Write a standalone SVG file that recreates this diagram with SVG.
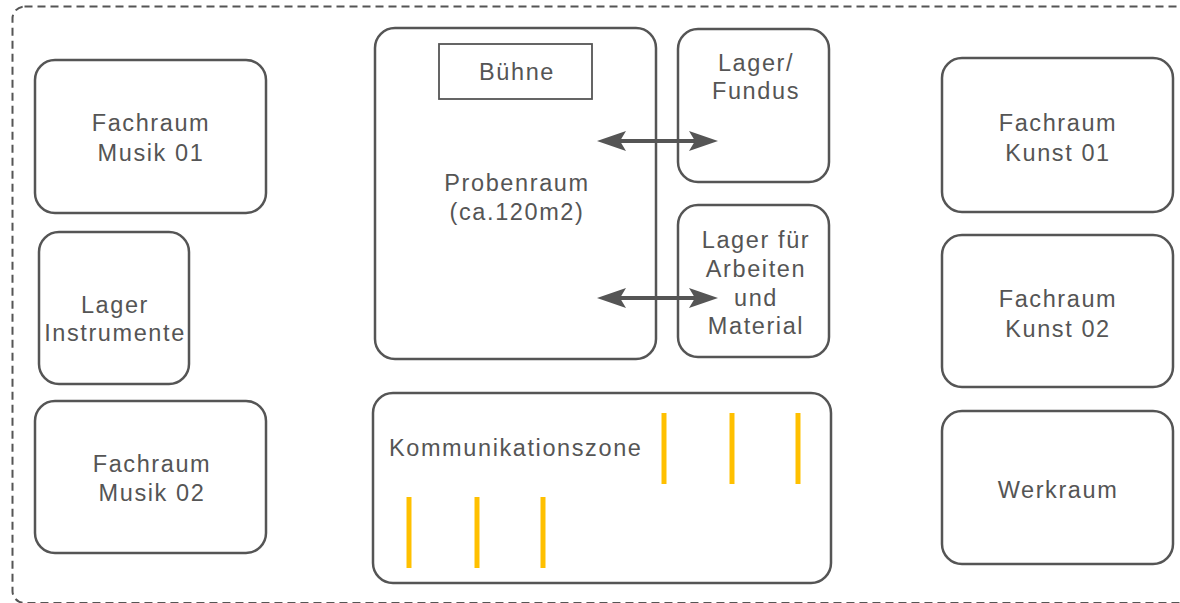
<svg xmlns="http://www.w3.org/2000/svg" width="1180" height="603" viewBox="0 0 1180 603">
<style>
.box{fill:#fff;stroke:#555;stroke-width:2.5}
.lbl{font-family:"Liberation Sans",Arial,sans-serif;font-size:23.5px;letter-spacing:1.6px;fill:#555;text-anchor:middle}
.conn{stroke:#555;stroke-width:4;fill:none}
.head{fill:#555}
.bar{stroke:#FFC000;stroke-width:5}
</style>
<rect width="1180" height="603" fill="#fff"/>
<rect id="frame" x="12.5" y="6.5" width="1200" height="596.5" rx="12" fill="none" stroke="#555" stroke-width="2" stroke-dasharray="8 5"/>
<g id="musik01"><rect class="box" x="35" y="60" width="231" height="153" rx="20"/><text class="lbl" x="151" y="131">Fachraum</text><text class="lbl" x="151" y="161">Musik 01</text></g>
<g id="lagerinstr"><rect class="box" x="39" y="232" width="150" height="152" rx="20"/><text class="lbl" x="115" y="313">Lager</text><text class="lbl" x="115" y="341">Instrumente</text></g>
<g id="musik02"><rect class="box" x="35" y="401" width="231" height="152" rx="20"/><text class="lbl" x="152" y="472">Fachraum</text><text class="lbl" x="152" y="501">Musik 02</text></g>
<g id="probenraum"><rect class="box" x="375" y="28" width="281" height="331" rx="20"/><text class="lbl" x="517" y="191">Probenraum</text><text class="lbl" x="517" y="220">(ca.120m2)</text></g>
<g id="buehne"><rect x="439" y="44" width="153" height="55" fill="#fff" stroke="#555" stroke-width="1.8"/><text class="lbl" x="517" y="80">Bühne</text></g>
<g id="fundus"><rect class="box" x="678" y="29" width="151" height="153" rx="20"/><text class="lbl" x="756" y="71">Lager/</text><text class="lbl" x="756" y="99">Fundus</text></g>
<g id="lagerarbeiten"><rect class="box" x="678" y="205" width="151" height="152" rx="20"/><text class="lbl" x="756" y="248">Lager für</text><text class="lbl" x="756" y="277">Arbeiten</text><text class="lbl" x="756" y="306">und</text><text class="lbl" x="756" y="334">Material</text></g>
<g id="kommunikation"><rect class="box" x="373" y="393" width="458" height="190" rx="20"/><text class="lbl" x="389" y="456" style="text-anchor:start">Kommunikationszone</text>
<line class="bar" x1="664" y1="413" x2="664" y2="484"/><line class="bar" x1="732" y1="413" x2="732" y2="484"/><line class="bar" x1="798" y1="413" x2="798" y2="484"/>
<line class="bar" x1="409" y1="497" x2="409" y2="568"/><line class="bar" x1="477" y1="497" x2="477" y2="568"/><line class="bar" x1="543" y1="497" x2="543" y2="568"/></g>
<g id="kunst01"><rect class="box" x="942" y="58" width="231" height="154" rx="20"/><text class="lbl" x="1058" y="131">Fachraum</text><text class="lbl" x="1058" y="161">Kunst 01</text></g>
<g id="kunst02"><rect class="box" x="942" y="235" width="231" height="152" rx="20"/><text class="lbl" x="1058" y="307">Fachraum</text><text class="lbl" x="1058" y="337">Kunst 02</text></g>
<g id="werkraum"><rect class="box" x="942" y="411" width="231" height="153" rx="20"/><text class="lbl" x="1058" y="498">Werkraum</text></g>
<g id="connectors">
<line class="conn" x1="620" y1="141" x2="696" y2="141"/>
<polygon class="head" points="597,141 626,131 620,141 626,151"/>
<polygon class="head" points="718,141 689,131 695,141 689,151"/>
<line class="conn" x1="620" y1="298" x2="696" y2="298"/>
<polygon class="head" points="597,298 626,288 620,298 626,308"/>
<polygon class="head" points="718,298 689,288 695,298 689,308"/>
</g>
</svg>
